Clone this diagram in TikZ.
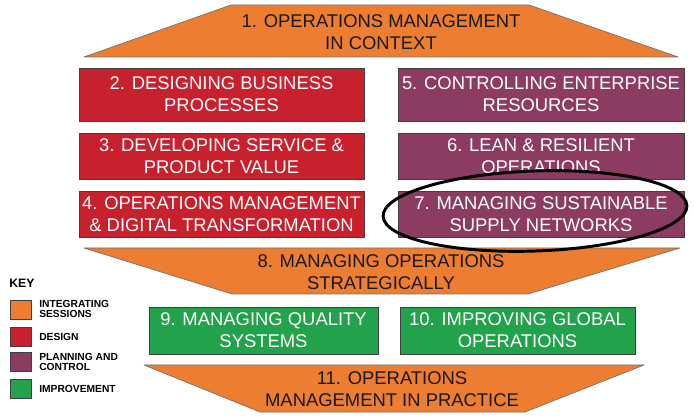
\documentclass[tikz,border=0pt]{standalone}
\usepackage{fontspec}
\setmainfont{Liberation Sans}
\usepackage{xcolor}
\usepackage{tikz}
\usepackage{tkz-euclide}
\usetikzlibrary{calc}

\definecolor{integr}{HTML}{ED7D31}
\definecolor{design}{HTML}{C8202D}
\definecolor{plan}{HTML}{8C3B63}
\definecolor{improve}{HTML}{22A24A}

\tikzset{
  session/.style={draw=black!75, line width=0.6pt, text=white, align=center,
    font=\fontsize{13.1}{15.6}\selectfont, inner sep=0pt},
  designbox/.style={session, fill=design, minimum width=7.125cm},
  planbox/.style={session, fill=plan, minimum width=7.15cm},
  improvebox/.style={session, fill=improve, minimum height=1.175cm},
  banner/.style={fill=integr, draw=black!55, line width=0.5pt},
  bannertext/.style={align=center, text=black!90, inner sep=0pt,
    font=\fontsize{13.1}{15.6}\selectfont},
  keybox/.style={draw=black!75, line width=0.5pt, minimum width=0.525cm,
    minimum height=0.475cm, inner sep=0pt},
  keytext/.style={anchor=west, align=left, inner sep=0pt,
    font=\bfseries\fontsize{7.3}{7.2}\selectfont},
}

\begin{document}
\begin{tikzpicture}
			\useasboundingbox (0,0) rectangle (17.35,10.45);
			% integrating sessions
			\tkzDefPoint(2.1,9.025){A}
			\tkzDefPoint(16.95,9.025){B}
			\tkzDefPoint(13.225,10.325){C}
			\tkzDefPoint(5.775,10.325){D}
			\tkzDrawPolygon[banner](A,B,C,D)
			\tkzDefPoint(2.1,4.25){E}
			\tkzDefPoint(17.0,4.25){F}
			\tkzDefPoint(13.2,3.1){G}
			\tkzDefPoint(5.8,3.1){H}
			\tkzDrawPolygon[banner](E,F,G,H)
			\tkzDefPoint(3.6,1.325){I}
			\tkzDefPoint(16.1,1.325){J}
			\tkzDefPoint(13.125,0.15){K}
			\tkzDefPoint(6.5,0.15){L}
			\tkzDrawPolygon[banner](I,J,K,L)
			\node[bannertext] (s1) at (9.525,9.65) {1. OPERATIONS MANAGEMENT\\IN CONTEXT};
			\node[bannertext] (s8) at (9.525,3.65) {8. MANAGING OPERATIONS\\STRATEGICALLY};
			\node[bannertext] (s11) at (9.8,0.725) {11. OPERATIONS\\MANAGEMENT IN PRACTICE};
			% design
			\node[designbox, minimum height=1.325cm] (b2) at (5.5375,8.0875) {2. DESIGNING BUSINESS\\PROCESSES};
			\node[designbox, minimum height=1.15cm] (b3) at (5.5375,6.55) {3. DEVELOPING SERVICE \&\\PRODUCT VALUE};
			\node[designbox, minimum height=1.15cm] (b4) at (5.5375,5.1) {4. OPERATIONS MANAGEMENT\\\& DIGITAL TRANSFORMATION};
			% planning and control
			\node[planbox, minimum height=1.325cm] (b5) at (13.525,8.0875) {5. CONTROLLING ENTERPRISE\\RESOURCES};
			\node[planbox, minimum height=1.15cm] (b6) at (13.525,6.55) {6. LEAN \& RESILIENT\\OPERATIONS};
			\node[planbox, minimum height=1.15cm] (b7) at (13.525,5.1) {7. MANAGING SUSTAINABLE\\SUPPLY NETWORKS};
			% improvement
			\node[improvebox, minimum width=5.725cm] (b9) at (6.5875,2.1875) {9. MANAGING QUALITY\\SYSTEMS};
			\node[improvebox, minimum width=5.875cm] (b10) at (12.9375,2.1875) {10. IMPROVING GLOBAL\\OPERATIONS};
			% ring round session 7
			\coordinate (O) at (13.375,5.175);
			\begin{scope}
				\clip[rotate around={2:(O)}] (O) ellipse (3.8 and 1.0);
				\fill[plan] ($(b6.south west)+(0.02,0.02)$) rectangle ($(b6.north east)-(0.02,0.02)$);
			\end{scope}
			\draw[line width=2.1pt, rotate around={2:(O)}] (O) ellipse (3.8 and 1.0);
			% key
			\node[anchor=west, inner sep=0pt, font=\bfseries\fontsize{8.7}{9}\selectfont] (key) at (0.225,3.3625) {KEY};
			\node[keybox, fill=integr] (k1) at (0.5125,2.7) {};
			\node[keybox, fill=design] (k2) at (0.5125,2.0375) {};
			\node[keybox, fill=plan] (k3) at (0.5125,1.4) {};
			\node[keybox, fill=improve] (k4) at (0.5125,0.725) {};
			\node[keytext] (l1) at (0.975,2.725) {INTEGRATING\\SESSIONS};
			\node[keytext] (l2) at (0.975,2.025) {DESIGN};
			\node[keytext] (l3) at (0.975,1.4) {PLANNING AND\\CONTROL};
			\node[keytext] (l4) at (0.975,0.725) {IMPROVEMENT};
		\end{tikzpicture}
\end{document}
